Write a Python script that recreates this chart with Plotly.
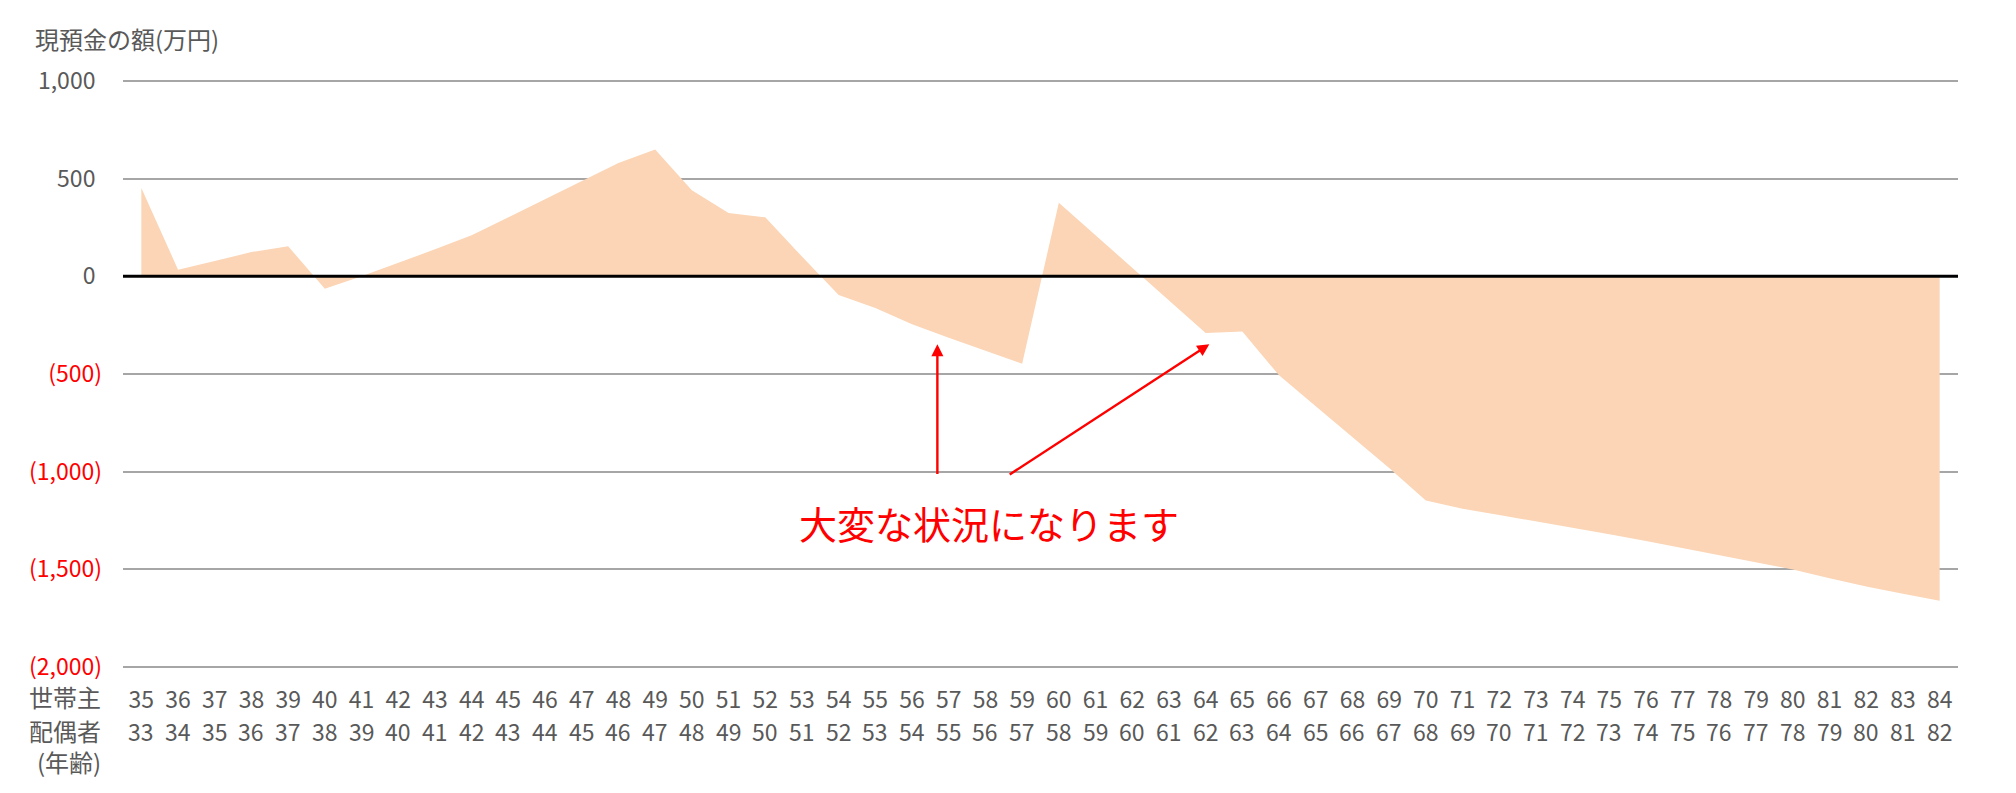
import plotly.graph_objects as go

# ---- data ----
householder_age = list(range(35, 85))
spouse_age = list(range(33, 83))
cash_balance = [
    452, 34, 78, 124, 154, -64, 0, 68, 138, 210,
    303, 394, 488, 580, 649, 440, 324, 302, 101, -96,
    -162, -246, -314, -381, -447, 377, 210, 44, -122, -290,
    -282, -507, -665, -823, -981, -1147, -1190, -1222, -1254, -1285,
    -1320, -1355, -1391, -1428, -1462, -1500, -1545, -1587, -1625, -1660,
]
y_tick_vals = [1000, 500, 0, -500, -1000, -1500, -2000]
y_tick_text = ["1,000", "500", "0", "(500)", "(1,000)", "(1,500)", "(2,000)"]

row_labels = ["世帯主", "配偶者", "(年齢)"]
y_title = "現預金の額(万円)"
callout = "大変な状況になります"

FONT = "Noto Sans CJK JP"
GRAY = "#595959"
RED = "#FF0000"
FILL = "#FBD5B5"

fig = go.Figure()
fig.add_trace(go.Scatter(
    x=householder_age, y=cash_balance, mode="lines",
    line=dict(width=0, color=FILL), fill="tozeroy", fillcolor=FILL,
    showlegend=False, hoverinfo="x+y",
))

# tick text: red for negatives, trailing space for positives (Excel-style alignment)
tt = []
for v, t in zip(y_tick_vals, y_tick_text):
    if v < 0:
        tt.append(f"<span style='color:{RED}'>{t}</span>")
    else:
        tt.append(t + "\u00a0\u200a")

# page has an 8px body margin, so the figure is sized/offset to compensate
fig.update_layout(
    width=2008, height=785,
    margin=dict(l=115, r=58, t=70, b=123),
    plot_bgcolor="white", paper_bgcolor="white",
    font=dict(family=FONT, size=23, color=GRAY),
    xaxis=dict(
        range=[34.5, 84.5], tickmode="array",
        tickvals=householder_age, ticktext=[str(a) for a in householder_age],
        showgrid=False, zeroline=False, showline=False, ticks="",
        ticklabelstandoff=14,
        tickfont=dict(family=FONT, size=23, color=GRAY),
    ),
    yaxis=dict(
        range=[-2015, 1015], tickmode="array",
        tickvals=y_tick_vals, ticktext=tt,
        showgrid=True, gridcolor="#A6A6A6", gridwidth=1.6,
        zeroline=False, showline=False, ticks="",
        ticklabelstandoff=20,
        tickfont=dict(family=FONT, size=23, color=GRAY),
    ),
)

# zero reference line above the area
fig.add_shape(type="line", xref="paper", x0=0, x1=1, yref="y", y0=0, y1=0,
              line=dict(color="black", width=3), layer="above")

annotations = []
# second row of x labels (spouse ages)
for ha, sa in zip(householder_age, spouse_age):
    annotations.append(dict(
        x=ha, xref="x", y=0, yref="paper", yanchor="middle", yshift=-61,
        text=str(sa), showarrow=False,
        font=dict(family=FONT, size=23, color=GRAY),
    ))
# row labels at left
for lbl, shift in zip(row_labels, [-26, -60, -91]):
    annotations.append(dict(
        x=0, xref="paper", xanchor="right", xshift=-20,
        y=0, yref="paper", yanchor="middle", yshift=shift,
        text=lbl, showarrow=False,
        font=dict(family=FONT, size=24, color=GRAY),
    ))
# y-axis title
annotations.append(dict(
    x=0, xref="paper", xanchor="left", xshift=-90,
    y=1, yref="paper", yanchor="middle", yshift=40,
    text=y_title, showarrow=False,
    font=dict(family=FONT, size=24, color=GRAY),
))
# callout text
annotations.append(dict(
    x=58.1, xref="x", y=-1259, yref="y", text=callout, showarrow=False,
    font=dict(family=FONT, size=38, color=RED),
))
# arrows
for tip_x, tip_y, tail_x, tail_y in [(56.69, -348, 56.69, -1019), (64.1, -348, 58.62, -1019)]:
    annotations.append(dict(
        x=tip_x, y=tip_y, xref="x", yref="y",
        ax=tail_x, ay=tail_y, axref="x", ayref="y",
        text="", showarrow=True, arrowhead=2, arrowsize=1.0, arrowwidth=2.4,
        arrowcolor=RED, standoff=0, startstandoff=0,
    ))
fig.update_layout(annotations=annotations)

fig.write_html("out.html")
